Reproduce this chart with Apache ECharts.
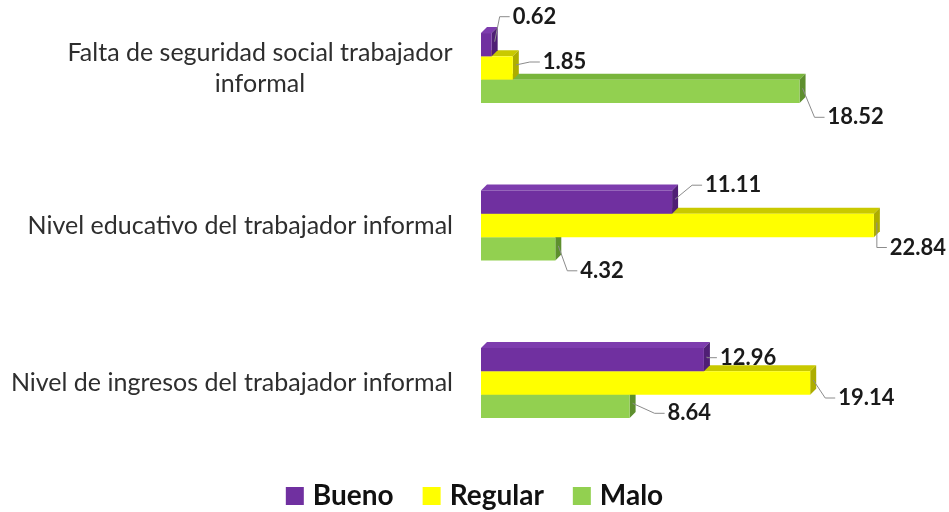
<!DOCTYPE html>
<html>
<head>
<meta charset="utf-8">
<script src="https://cdn.jsdelivr.net/npm/echarts@6/dist/echarts.min.js"></script>
<style>
html,body{margin:0;padding:0;background:#fff;}
#chart{width:949px;height:512px;}
</style>
</head>
<body>
<div id="chart"></div>
<script>
// ---- data (categories listed bottom to top, as the category axis draws them) ----
const categories = [
  'Nivel de ingresos del trabajador informal',
  'Nivel educativo del trabajador informal',
  'Falta de seguridad social trabajador informal'
];
const seriesNames = ['Bueno', 'Regular', 'Malo'];
const bueno   = [12.96, 11.11, 0.62];
const regular = [19.14, 22.84, 1.85];
const malo    = [8.64, 4.32, 18.52];

// ---- layout helpers (label nudges in px, relative to bar end / bar centre) ----
const labelNudge = {
  Bueno:   [[16, -2], [33, -17], [21, -28]],
  Regular: [[28, 15], [16, 22], [30, -6]],
  Malo:    [[38, 7], [25, 22], [28, 26]]
};
const palette = {
  Bueno:   { front: '#7030A0', top: '#7d3cae', side: '#4f1f75' },
  Regular: { front: '#FFFF00', top: '#c9c900', side: '#adad00' },
  Malo:    { front: '#92D050', top: '#79b53c', side: '#5e8f2e' }
};
const DEPTH = 6;
const BAR_RATIO = 0.148;
const FONT = 'Lato, "Open Sans", sans-serif';

const valuesByName = { Bueno: bueno, Regular: regular, Malo: malo };

function makeSeries(name) {
  const slot = seriesNames.indexOf(name); // 0 = top bar in each group
  const col = palette[name];
  return {
    name: name,
    type: 'custom',
    color: col.front,
    data: valuesByName[name].map((v, i) => [v, i]),
    encode: { x: 0, y: 1 },
    renderItem: function (params, api) {
      const v = api.value(0);
      const ci = api.value(1);
      const p0 = api.coord([0, ci]);
      const p1 = api.coord([v, ci]);
      const band = Math.abs(api.coord([0, 0])[1] - api.coord([0, 1])[1]);
      const h = band * BAR_RATIO;
      const x0 = p0[0], x1 = p1[0];
      const yTop = p0[1] - 1.5 * h + slot * h;
      const yc = yTop + h / 2;
      const d = DEPTH;
      const z = 10 - slot;
      const nudge = labelNudge[name][ci];
      const tx = x1 + nudge[0];
      const ty = yc + nudge[1];
      const sx = x1 + d / 2, sy = yc - d / 2;
      return {
        type: 'group',
        children: [
          { type: 'polygon', z2: z,
            shape: { points: [[x0, yTop], [x0 + d, yTop - d], [x1 + d, yTop - d], [x1, yTop]] },
            style: { fill: col.top } },
          { type: 'polygon', z2: z,
            shape: { points: [[x1, yTop], [x1 + d, yTop - d], [x1 + d, yTop + h - d], [x1, yTop + h]] },
            style: { fill: col.side } },
          { type: 'rect', z2: z,
            shape: { x: x0, y: yTop, width: x1 - x0, height: h },
            style: { fill: col.front } },
          { type: 'polyline', z2: 50,
            shape: { points: [[sx, sy], [tx - 13, ty], [tx - 3, ty]] },
            style: { stroke: '#8c8c8c', lineWidth: 1, fill: null } },
          { type: 'text', z2: 60,
            style: { text: v.toFixed(2), x: tx, y: ty, fill: '#1a1a1a',
                     font: 'bold 22px ' + FONT, align: 'left', verticalAlign: 'middle' } }
        ]
      };
    }
  };
}

const chart = echarts.init(document.getElementById('chart'));
chart.setOption({
  backgroundColor: '#ffffff',
  animation: false,
  grid: { left: 481, right: 38, top: 68, height: 315, containLabel: false },
  xAxis: {
    type: 'value', min: 0, max: 25,
    show: false
  },
  yAxis: {
    type: 'category',
    data: categories,
    boundaryGap: false,
    axisLine: { show: false },
    axisTick: { show: false },
    splitLine: { show: false },
    axisLabel: {
      margin: 28,
      color: '#2e2e2e',
      fontFamily: FONT,
      fontSize: 25,
      align: 'right',
      formatter: function (val) {
        if (val.indexOf('Falta') === 0) {
          return '{c|Falta de seguridad social trabajador}\n{c|informal}';
        }
        return val;
      },
      rich: {
        c: { width: 386, align: 'center', fontFamily: FONT, fontSize: 25, color: '#2e2e2e', lineHeight: 31 }
      }
    }
  },
  legend: {
    data: seriesNames,
    left: 'center',
    top: 477,
    icon: 'rect',
    itemWidth: 18,
    itemHeight: 18,
    itemGap: 29,
    textStyle: { fontFamily: FONT, fontSize: 28, fontWeight: 'bold', color: '#111', padding: [0, 0, 0, 4] }
  },
  series: [makeSeries('Malo'), makeSeries('Regular'), makeSeries('Bueno')]
});
</script>
</body>
</html>
